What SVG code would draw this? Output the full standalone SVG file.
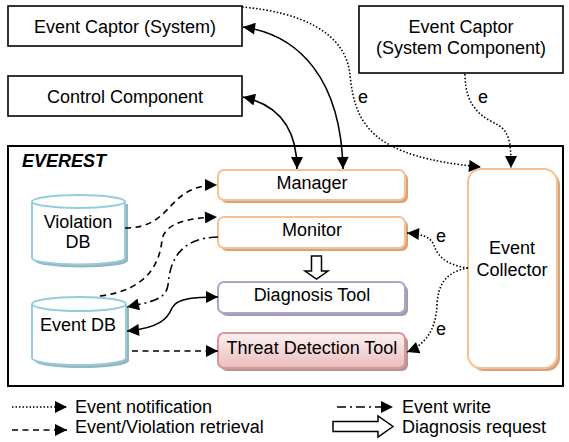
<svg xmlns="http://www.w3.org/2000/svg" width="569" height="442" viewBox="0 0 569 442">
<style>
text{font-family:"Liberation Sans",Arial,sans-serif;font-size:18px;fill:#000}
.mid{text-anchor:middle}
.box{fill:#fff;stroke:#000;stroke-width:1.6}
.orange{fill:#fff;stroke:#FAC08F;stroke-width:2}
.oshadow{fill:#D6A47C}
.purple{fill:#fff;stroke:#B3A2C7;stroke-width:2}
.pshadow{fill:#A39BB0}
.red{fill:url(#pink);stroke:#D99694;stroke-width:2}
.rshadow{fill:#B39594}
.cyl{fill:#fff;stroke:#93CDDD;stroke-width:2}
.cshadow{fill:#98B4BC}
.c{fill:none;stroke:#000;stroke-width:1.6}
.dot{stroke-dasharray:1.5 2}
.dash{stroke-dasharray:6 4.5}
.dashdot{stroke-dasharray:9 4 2 4}
.ah{marker-end:url(#arr)}
.both{marker-start:url(#arr);marker-end:url(#arr)}
</style>
<defs>
<linearGradient id="pink" x1="0" y1="0" x2="0" y2="1">
<stop offset="0" stop-color="#FDF1F1"/>
<stop offset="1" stop-color="#E8BDBC"/>
</linearGradient>
<marker id="arr" viewBox="0 0 10 10" refX="10" refY="5" markerWidth="14" markerHeight="12" markerUnits="userSpaceOnUse" orient="auto-start-reverse">
<path d="M0,0 L10,5 L0,10 z" fill="#000"/>
</marker>
</defs>

<g id="everest">
<rect x="8" y="146" width="555" height="240" fill="#fff" stroke="#000" stroke-width="2"/>
<text x="22" y="167" style="font-weight:bold;font-style:italic">EVEREST</text>
</g>

<g id="event-captor-system">
<rect class="box" x="8" y="6" width="234" height="40"/>
<text class="mid" x="125" y="33">Event Captor (System)</text>
</g>

<g id="control-component">
<rect class="box" x="8" y="76" width="234" height="40"/>
<text class="mid" x="125" y="103">Control Component</text>
</g>

<g id="event-captor-component">
<rect class="box" x="359" y="6" width="204" height="67"/>
<text class="mid" x="461" y="33">Event Captor</text>
<text class="mid" x="461" y="54">(System Component)</text>
</g>

<g id="manager">
<rect class="oshadow" x="221" y="173" width="187" height="30" rx="6"/>
<rect class="orange" x="218" y="170" width="187" height="30" rx="6"/>
<text class="mid" x="312" y="189">Manager</text>
</g>

<g id="monitor">
<rect class="oshadow" x="221" y="220" width="187" height="31" rx="6"/>
<rect class="orange" x="218" y="217" width="187" height="31" rx="6"/>
<text class="mid" x="312" y="236">Monitor</text>
</g>

<g id="diagnosis-tool">
<rect class="pshadow" x="221" y="285" width="187" height="31" rx="6"/>
<rect class="purple" x="218" y="282" width="187" height="31" rx="6"/>
<text class="mid" x="312" y="301">Diagnosis Tool</text>
</g>

<g id="threat-detection-tool">
<rect class="rshadow" x="221" y="336" width="187" height="35" rx="6"/>
<rect class="red" x="218" y="333" width="187" height="35" rx="6"/>
<text class="mid" x="312" y="354">Threat Detection Tool</text>
</g>

<g id="event-collector">
<rect class="oshadow" x="471" y="172" width="89" height="199" rx="13"/>
<rect class="orange" x="468" y="169" width="89" height="199" rx="13"/>
<text class="mid" x="512" y="254">Event</text>
<text class="mid" x="512" y="276">Collector</text>
</g>

<g id="violation-db">
<path class="cshadow" d="M35,204 L128,204 L128,261 A46.5,6.5 0 0 1 35,261 z"/>
<path class="cyl" d="M32,201.5 L32,258 A46.5,6.5 0 0 0 125,258 L125,201.5"/>
<ellipse class="cyl" cx="78.5" cy="201.5" rx="46.5" ry="6.5"/>
<text class="mid" x="78" y="228">Violation</text>
<text class="mid" x="78" y="248">DB</text>
</g>

<g id="event-db">
<path class="cshadow" d="M35,307 L129,307 L129,361 A47,7 0 0 1 35,361 z"/>
<path class="cyl" d="M32,304 L32,358 A47,7 0 0 0 126,358 L126,304"/>
<ellipse class="cyl" cx="79" cy="304" rx="47" ry="7"/>
<text class="mid" x="78" y="331">Event DB</text>
</g>

<g id="connectors">
<path class="c dot ah" d="M242,7 C300,12 346,32 350,75 C355,125 372,157 481,167"/>
<path class="c dot ah" d="M465,74 C465,110 485,118 498,125 C510,132 511,145 511,168"/>
<path class="c both" d="M243,27 C300,35 341,80 343,169"/>
<path class="c both" d="M243,97 C280,105 297,130 297,169"/>
<path class="c dash ah" d="M125,228 C175,228 165,185 217,185"/>
<path class="c dash ah" d="M100,296 C150,290 160,260 162,240 C165,222 190,218 217,217"/>
<path class="c dashdot ah" d="M218,237 C180,238 170,260 168,285 C166,300 150,302 127,307"/>
<path class="c both" d="M127,331 C160,328 168,318 172,308 C177,298 195,297 218,297"/>
<path class="c dash ah" d="M132,351 L218,351"/>
<path class="c dot ah" d="M468,268 C445,265 437,255 434,245 C430,236 420,234 407,233"/>
<path class="c dot ah" d="M468,268 C445,272 438,285 437,305 C436,330 425,345 407,352"/>
<polygon points="311.5,256 321.5,256 321.5,271 328,271 316.5,279 305,271 311.5,271" fill="#fff" stroke="#000" stroke-width="1.5"/>
<text class="mid" x="363" y="103">e</text>
<text class="mid" x="483" y="103">e</text>
<text class="mid" x="441" y="242">e</text>
<text class="mid" x="441" y="335">e</text>
</g>

<g id="legend">
<path class="c dot ah" d="M12,407 L67,407"/>
<text x="75" y="413">Event notification</text>
<path class="c dash ah" d="M12,430 L67,430"/>
<text x="75" y="433">Event/Violation retrieval</text>
<path class="c dashdot ah" d="M337,407 L393,407"/>
<text x="402" y="413">Event write</text>
<polygon points="333,421.5 378,421.5 378,416 393,426.5 378,437 378,431.5 333,431.5" fill="#fff" stroke="#000" stroke-width="1.5"/>
<text x="402" y="433">Diagnosis request</text>
</g>
</svg>
